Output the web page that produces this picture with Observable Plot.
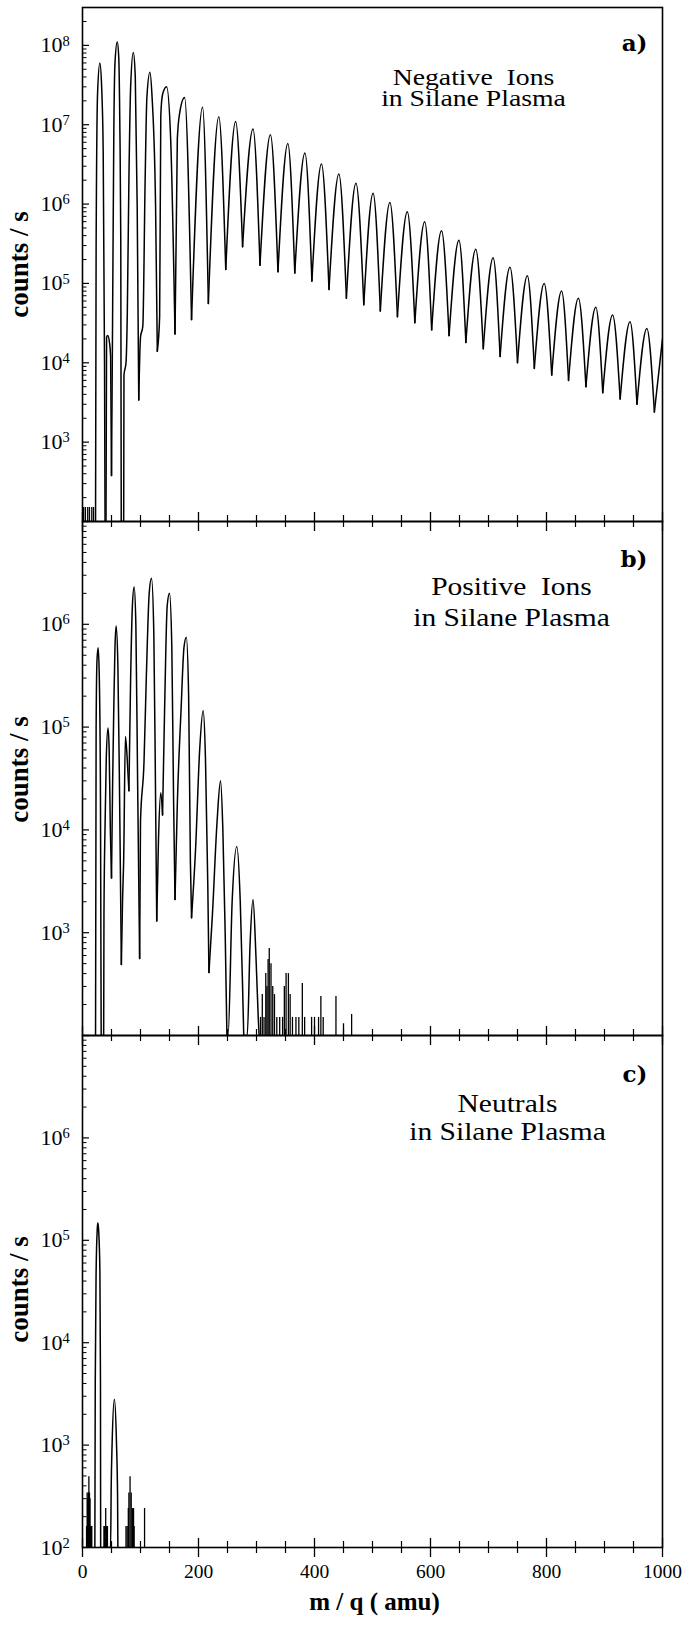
<!DOCTYPE html>
<html><head><meta charset="utf-8">
<script src="https://cdn.jsdelivr.net/npm/d3@7"></script>
<script src="https://cdn.jsdelivr.net/npm/@observablehq/plot@0.6"></script>
<style>
html,body{margin:0;padding:0;background:#fff;}
#fig{position:relative;width:682px;height:1629px;overflow:hidden;background:#fff;}
#fig svg{position:absolute;left:0;overflow:visible;}
</style></head><body><div id="fig"></div>
<script>
// ---------- axis ticks & labels ----------
const xTicksMinor = [50,100,150,250,300,350,450,500,550,650,700,750,850,900,950];
const xTicksMajor = [0,200,400,600,800,1000];
const xTickLabels = ["0","200","400","600","800","1000"];
const expA = [3,4,5,6,7,8];
const expB = [3,4,5,6];
const expC = [2,3,4,5,6];

// ---------- a) negative ions ----------
const negMass = [22.5,23.5,26,29.9,33,35.7,38,38.9,40.5,41.5,43.5,46.5,48.5,50,52,54,56,59.9,62.5,64.5,66,66.8,71,71.5,75,77.2,80,83,87.6,91,94.3,97,100,104,108,111,116.2,120,126,129,133,135,138,145,152,159.5,163.5,167.5,176,188,207,217,235,247,264,276,294,306,324,337,354,366,383.5,395.5,412,425,442,455,471.5,485,501,513.5,530,543,560,573,590,602,619,632,649,661,678,691,708,720,737,750,767,779,796,809,826,838,855,868,885,897,914,927,944,956,973,986,1000];
const negCounts = [100,3e5,2.5e7,6e7,3e7,4.5e6,9e3,100,100,2.1e4,2.2e4,1.8e4,1.2e4,380,5e4,8e6,6e7,1.1e8,7e7,8e6,3.6e5,100,100,7e3,1e4,4e4,2e6,3e7,8.1e7,4e7,9.4e5,3.4e3,2.1e4,2.9e4,2e6,2.2e7,4.6e7,2.2e7,9.4e5,1.4e4,3.8e4,1.3e7,2.4e7,3e7,6.6e6,2.3e4,6.6e6,1.4e7,2.2e7,3.5e4,1.66e7,5.6e4,1.26e7,1.5e5,1.1e7,2.9e5,8.8e6,1.7e5,7.5e6,1.4e5,5.8e6,1.35e5,4.4e6,1.07e5,3.2e6,8.4e4,2.4e6,6.5e4,1.83e6,5.4e4,1.37e6,4.5e4,1.05e6,3.8e4,8e5,3.2e4,6e5,2.6e4,4.6e5,2.2e4,3.5e5,1.8e4,2.7e5,1.5e4,2.1e5,1.2e4,1.6e5,1e4,1.25e5,8.5e3,1e5,7e3,8e4,6e3,6.5e4,5e3,5e4,4.2e3,4e4,3.5e3,3.3e4,3e3,2.7e4,2.4e3,2e4];
const negSpikeMass = [2,5,9,12,16,19];
const negSpikeCounts = [150,150,150,150,150,150];

// ---------- b) positive ions ----------
const posMass = [22.5,23.5,25,27,29,31,32.2,36.5,37,39,41,44,46,48,50,52,54,56,58,61,64,67,69,71,74,77,80,83,86,89,92,95,98.5,100,106,110,115,119,123,126,128,131,135,138,142,146,150,154,157,159.5,163.5,170,175,179,183,186,188,195,202,208,212,216,218,224,232,238,242,246,249,251,258,266,272,276,278,284,289,294,299,303,304.5];
const posCounts = [100,1e5,4.5e5,5.9e5,3e5,2e4,100,100,1.5e3,1.2e4,5e4,9.8e4,6e4,1e4,3.4e3,3e4,1.6e5,6e5,9.6e5,4e5,2e4,490,2e3,5.2e3,8.1e4,5e4,2.4e4,3e5,1.5e6,2.3e6,1e6,3e4,560,1.2e4,4.5e4,3e5,2e6,2.8e6,8e5,2e4,1.3e3,8e3,2.3e4,1.4e4,2e5,1.5e6,2e6,6e5,2e4,2.1e3,1.8e4,1.5e5,6e5,7.5e5,2e5,5e3,1.4e3,6.6e3,6e4,1.45e5,5e4,3e3,410,1.5e3,1.2e4,3e4,1e4,1e3,100,100,2e3,6.9e3,2e3,300,100,100,800,2.1e3,600,150,100];
const posSpikeMass = [307,310,313,316,318,320,322,325,328,331,335,340,345,348,351,355,358,362,368,373,379,383,395,400,407,411,415,437,450,464];
const posSpikeCounts = [150,250,150,400,300,550,700,500,300,250,150,150,150,300,400,400,250,150,150,150,320,150,150,150,150,240,150,240,130,160];

// ---------- c) neutrals ----------
const neuMass = [21.3,22,23.5,25.5,26.5,28,30,31,31.3,48.4,49.5,51,55,58.5,60.5,61];
const neuCounts = [100,4e3,5e4,1.3e5,1.48e5,1.2e5,5e4,4e3,100,100,400,1e3,2.8e3,1.1e3,300,100];
const neuSpikeMass = [7,8,9,10,11,12,13,14,15,16,37,38,40,41,42,43,75,77,79,80,82,84,86,88,89,107];
const neuSpikeCounts = [160,340,300,340,490,340,300,160,160,160,160,160,240,160,160,160,160,160,240,340,490,340,240,240,160,240];

// ---------- layout ----------
const WIDTH = 682, FRAME_LEFT = 82, FRAME_RIGHT = 662;
const fig = document.getElementById("fig");

function segmentRows(mass, counts) {
  const rows = []; let seg = 0;
  mass.forEach((m, i) => {
    const c = counts[i];
    rows.push({m, c, seg});
    if (i > 0 && i < mass.length - 1 && c < counts[i-1] && c <= counts[i+1]) {
      seg++; rows.push({m, c, seg});
    }
  });
  return rows;
}

// widen the Times-like title lettering, as in the scanned figure
function stretch(svg, strings, s) {
  svg.querySelectorAll("text").forEach(t => {
    if (!strings.includes(t.textContent)) return;
    const tr = t.getAttribute("transform") || "";
    t.setAttribute("transform", `${tr} scale(${s},1)`);
  });
}

function panel(o) {
  const frameH = o.height - o.marginTop - o.marginBottom;
  const frameW = FRAME_RIGHT - FRAME_LEFT;
  const lo = Math.floor(Math.log10(o.yDomain[0])), hi = Math.floor(Math.log10(o.yDomain[1]));
  const majors = d3.range(lo, hi + 1).map(k => 10 ** k).filter(v => v >= o.yDomain[0] && v <= o.yDomain[1]);
  const minors = d3.range(lo, hi + 1).flatMap(k => d3.range(2, 10).map(j => j * 10 ** k)).filter(v => v >= o.yDomain[0] && v <= o.yDomain[1] * 1.0001);
  const rows = segmentRows(o.mass, o.counts);
  const spikes = o.spikeMass.map((m, i) => ({m, c: o.spikeCounts[i]}));
  const marks = [
    Plot.ruleY(minors, {y: d => d, insetRight: frameW - 4.5, stroke: "#000", strokeWidth: 1}),
    Plot.ruleY(majors, {y: d => d, insetRight: frameW - 7, stroke: "#000", strokeWidth: 1.2}),
    Plot.ruleX(xTicksMinor, {x: d => d, insetTop: frameH - 6, insetBottom: -6, stroke: "#000", strokeWidth: 1.2}),
    Plot.ruleX(xTicksMajor, {x: d => d, insetTop: frameH - 9, insetBottom: -10, stroke: "#000", strokeWidth: 1.3}),
    Plot.ruleX(spikes, {x: "m", y1: o.yDomain[0], y2: "c", stroke: "#000", strokeWidth: 1.3}),
    Plot.line(rows, {x: "m", y: "c", z: "seg", curve: "monotone-x", stroke: "#000", strokeWidth: 1.5, clip: true}),
    Plot.frame({stroke: "#000", strokeWidth: 1.6}),
    Plot.text(o.exps, {y: d => 10 ** d, text: () => "10", frameAnchor: "left", dx: -20, textAnchor: "end", fontSize: 22, fontFamily: "Liberation Serif", fill: "#000"}),
    Plot.text(o.exps, {y: d => 10 ** d, text: d => String(d), frameAnchor: "left", dx: -20, dy: -4.5, textAnchor: "start", fontSize: 14.5, fontFamily: "Liberation Serif", fill: "#000"}),
    Plot.text(["counts / s"], {frameAnchor: "left", dx: -63, dy: o.labelDy, rotate: -90, textAnchor: "middle", lineAnchor: "middle", fontSize: 27, fontWeight: "bold", fontFamily: "Liberation Serif", fill: "#000"}),
    Plot.text([o.title1], {frameAnchor: "top-left", dx: o.titleX - FRAME_LEFT, dy: o.title1Dy, textAnchor: "middle", lineAnchor: "top", fontSize: o.titleSize, fontFamily: "Liberation Serif", fill: "#000"}),
    Plot.text([o.title2], {frameAnchor: "top-left", dx: o.titleX - FRAME_LEFT, dy: o.title2Dy, textAnchor: "middle", lineAnchor: "top", fontSize: o.titleSize, fontFamily: "Liberation Serif", fill: "#000"}),
    Plot.text([o.tag], {frameAnchor: "top-right", dx: -15, dy: o.tagDy, textAnchor: "end", lineAnchor: "top", fontSize: 23, fontWeight: "bold", fontFamily: "DejaVu Serif", fill: "#000"})
  ];
  if (o.xLabels) {
    marks.push(Plot.text(xTicksMajor, {x: d => d, text: (d, i) => xTickLabels[i], frameAnchor: "bottom", dy: 30, textAnchor: "middle", fontSize: 19.5, fontFamily: "Liberation Serif", fill: "#000"}));
    marks.push(Plot.text(["m / q ( amu)"], {frameAnchor: "bottom", dx: 2, dy: 62, textAnchor: "middle", fontSize: 25, fontWeight: "bold", fontFamily: "Liberation Serif", fill: "#000"}));
  }
  const svg = Plot.plot({
    width: WIDTH, height: o.height,
    marginLeft: FRAME_LEFT, marginRight: WIDTH - FRAME_RIGHT,
    marginTop: o.marginTop, marginBottom: o.marginBottom,
    x: {domain: [0, 1000], axis: null},
    y: {type: "log", domain: o.yDomain, axis: null},
    style: {background: "transparent", overflow: "visible", fontFamily: "Liberation Serif", color: "#000"},
    marks
  });
  stretch(svg, [o.title1, o.title2], 1.18);
  svg.style.top = o.top + "px";
  fig.appendChild(svg);
}

panel({top: 0, height: 521, marginTop: 7, marginBottom: 0, yDomain: [100, 3e8],
  mass: negMass, counts: negCounts, spikeMass: negSpikeMass, spikeCounts: negSpikeCounts,
  exps: expA, title1: "Negative  Ions", title2: "in Silane Plasma", titleX: 473, titleSize: 23.5,
  title1Dy: 61, title2Dy: 82, tag: "a)", tagDy: 27, labelDy: 0});
panel({top: 521, height: 514, marginTop: 0, marginBottom: 0, yDomain: [100, 1e7],
  mass: posMass, counts: posCounts, spikeMass: posSpikeMass, spikeCounts: posSpikeCounts,
  exps: expB, title1: "Positive  Ions", title2: "in Silane Plasma", titleX: 511, titleSize: 25,
  title1Dy: 56, title2Dy: 87, tag: "b)", tagDy: 29.5, labelDy: -9});
panel({top: 1035, height: 594, marginTop: 0, marginBottom: 82, yDomain: [100, 1e7],
  mass: neuMass, counts: neuCounts, spikeMass: neuSpikeMass, spikeCounts: neuSpikeCounts,
  exps: expC, title1: "Neutrals", title2: "in Silane Plasma", titleX: 507, titleSize: 25,
  title1Dy: 59, title2Dy: 87, tag: "c)", tagDy: 30.5, labelDy: -2, xLabels: true});
</script>
</body></html>
